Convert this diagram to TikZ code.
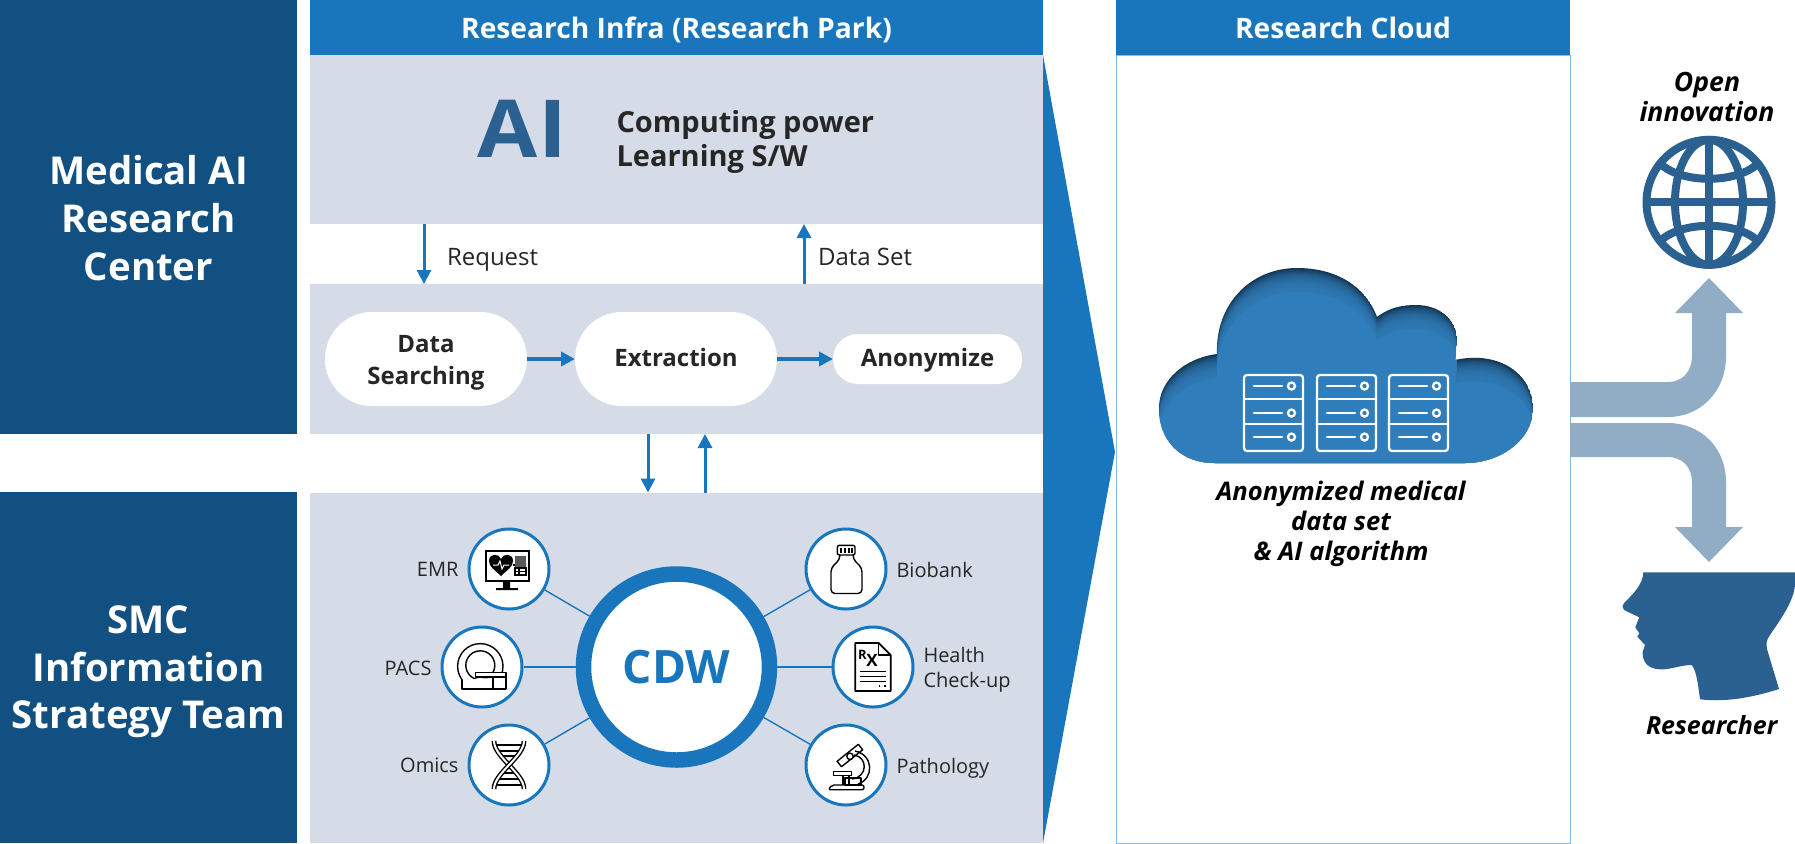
\documentclass[tikz,border=0pt]{standalone}
\usepackage{fontspec}
\usepackage{graphicx}
\setmainfont{Open Sans}
\usetikzlibrary{arrows.meta, positioning, calc}
\definecolor{mainblue}{HTML}{1976BC}
\definecolor{navy}{HTML}{125082}
\definecolor{steel}{HTML}{2A6190}
\definecolor{panelgray}{HTML}{D5DCE7}
\definecolor{branchblue}{HTML}{91ADC6}
\definecolor{cloudblue}{HTML}{3380BE}
\definecolor{cloudshade}{HTML}{123552}
\tikzset{
  box/.style={rectangle, inner sep=0pt, outer sep=0pt, align=center},
  team/.style={box, fill=navy, minimum width=148.5pt},
  teamtext/.style={inner sep=0pt, align=center, text=white, font=\bfseries\fontsize{19.2}{23.8}\selectfont},
  header/.style={box, fill=mainblue, text=white, minimum height=27.5pt, text height=12pt, text depth=.9pt, font=\bfseries\fontsize{14.1}{18}\selectfont},
  panel/.style={box, fill=panelgray, minimum width=366.5pt},
  pill/.style={box, fill=white, rounded corners=23.4pt, minimum width=101pt, minimum height=47pt, text=black!85, font=\bfseries\fontsize{12}{16}\selectfont},
  tag/.style={inner sep=0pt, outer sep=0pt, align=left, font=\fontsize{10}{12.5}\selectfont, text=black!85},
  linktag/.style={tag, font=\fontsize{12}{14}\selectfont},
  source/.style={circle, draw=mainblue, fill=white, line width=1.5pt, minimum size=40pt, inner sep=0pt},
  hub/.style={circle, draw=mainblue, fill=white, line width=7.75pt, minimum size=93pt, inner sep=0pt, text=mainblue, font=\bfseries\fontsize{23}{24}\selectfont},
  flow/.style={-{Triangle[width=7pt,length=7pt]}, line width=1.5pt, draw=mainblue},
  spoke/.style={draw=mainblue, line width=.7pt},
  branch/.style={fill=branchblue},
  caption/.style={inner sep=0pt, align=center, text=black, font=\bfseries\itshape\fontsize{12.8}{15}\selectfont},
  iconline/.style={draw=black, line width=.7pt, line join=round},
  serverline/.style={draw=white, line width=1.15pt},
  cloudoutline/.style={insert path={(1215,463) .. controls (1180,463) and (1159,440) .. (1159,408)
    .. controls (1159,380) and (1185,358) .. (1217,354) .. controls (1215,305) and (1250,268) .. (1297,268)
    .. controls (1335,268) and (1365,285) .. (1377,317) .. controls (1390,307) and (1403,305) .. (1416,305)
    .. controls (1440,305) and (1457,320) .. (1457,340) .. controls (1457,346) and (1456,353) .. (1455,360)
    .. controls (1500,350) and (1533,375) .. (1533,408) .. controls (1533,440) and (1500,463) .. (1465,463) -- cycle}},
}
\begin{document}
\begin{tikzpicture}[x=0.5pt, y=-0.5pt]
  \useasboundingbox (0,0) rectangle (1795,843);

  % left column
  \node[team, minimum height=217pt] (medical) at (148.5,217) {};
  \node[team, minimum height=175.5pt] (smc) at (148.5,667.5) {};
  \node[teamtext] (medicaltext) at (148.5,218) {Medical AI\\Research\\Center};
  \node[teamtext] (smctext) at (148.5,672) {SMC\\Information\\Strategy Team};

  % research infra
  \fill[mainblue] (1043,55) -- (1115,452) -- (1043,843) -- cycle;
  \node[header, minimum width=366.5pt] (infra) at (676.5,27.5) {Research Infra (Research Park)};
  \node[panel, minimum height=84.5pt] (aibox) at (676.5,139.5) {};
  \node[panel, minimum height=75pt] (pipebox) at (676.5,359) {};
  \node[panel, minimum height=175pt] (cdwbox) at (676.5,667.5) {};

  \node[inner sep=0pt, text=steel, font=\bfseries\fontsize{40}{40}\selectfont] (ai) at (522.5,129) {\scalebox{1.09}[1]{AI}};
  \node[tag, anchor=west, text=black!85, font=\bfseries\fontsize{14.5}{17.3}\selectfont] (power) at (616.5,142) {Computing power\\Learning S/W};

  \node[pill] (search) at (426,359) {\rule{0pt}{12pt}Data\\Searching};
  \node[pill, right=24pt of search, text height=9pt, text depth=1.6pt] (extract) {Extraction};
  \node[pill, right=28pt of extract, minimum width=94.5pt, minimum height=25pt, rounded corners=12.4pt, text height=9pt, text depth=1.6pt] (anon) {Anonymize};
  \draw[flow, line width=2pt] (search) -- (extract);
  \draw[flow, line width=2pt] (extract) -- (anon);

  \coordinate (reqx) at (424,0);
  \coordinate (setx) at (804,0);
  \coordinate (downx) at (648,0);
  \coordinate (upx) at (705,0);
  \draw[flow] (reqx |- aibox.south) -- node[linktag, pos=.6, right=11.5pt] (request) {Request} (reqx |- pipebox.north);
  \draw[flow] (setx |- pipebox.north) -- node[linktag, pos=.45, right=7pt] (dataset) {Data Set} (setx |- aibox.south);
  \draw[flow] (downx |- pipebox.south) -- (downx |- cdwbox.north);
  \draw[flow] (upx |- cdwbox.north) -- (upx |- pipebox.south);

  % cdw
  \node[hub] (cdw) at (676.5,667) {CDW};
  \node[source] (emr) at (509,569) {};
  \node[source] (pacs) at (482,667) {};
  \node[source] (omics) at (509,765) {};
  \node[source] (biobank) at (846,569) {};
  \node[source] (health) at (873,667) {};
  \node[source] (pathology) at (846,765) {};
  \foreach \src in {emr, pacs, omics, biobank, health, pathology}
    \draw[spoke] (cdw) -- (\src);

  \node[tag, left=4.5pt of emr] (emrtag) {EMR};
  \node[tag, left=4.5pt of pacs, yshift=-.5pt] (pacstag) {PACS};
  \node[tag, left=4.5pt of omics] (omicstag) {Omics};
  \node[tag, right=4.5pt of biobank, yshift=-.5pt] (biobanktag) {Biobank};
  \node[tag, right=4.5pt of health, yshift=-1.5pt] (healthtag) {Health\\Check-up};
  \node[tag, right=4.5pt of pathology, yshift=-1.5pt] (pathologytag) {Pathology};

  % icons
  \begin{scope}[shift={(emr)}]
    \fill[black] (-24.5,-19) rectangle (21,13);
    \fill[white] (-22.5,-17) rectangle (19,11);
    \fill[black] (-6,13) rectangle (1,19) (-13,19) rectangle (9,21);
    \fill[black] (-8,7) .. controls (-14,1) and (-20,-2) .. (-20,-8) .. controls (-20,-16) and (-10,-16) .. (-8,-10)
      .. controls (-6,-16) and (4,-16) .. (4,-8) .. controls (4,-2) and (-2,1) .. (-8,7) -- cycle;
    \draw[white, line width=.5pt] (-16,-4) -- (-11,-4) -- (-9,-8) -- (-7,0) -- (-5,-4) -- (0,-4);
    \draw[iconline] (4,-4) -- (6,-4);
    \fill[black!65] (6,-13) rectangle (17,-1);
    \draw[black, line width=.6pt, fill=white] (6,-1) rectangle (17,6) (6,2.5) -- (17,2.5) (10,-1) -- (10,6);
  \end{scope}
  \begin{scope}[shift={(pacs)}]
    \draw[iconline] (-1.7,-0.7) circle[radius=22.7];
    \draw[iconline] (-1.7,-1.7) circle[radius=14.5];
    \draw[iconline, fill=white] (-20,13) -- (-20,22) -- (24,22) -- (24,5.5) -- (-6.5,5.5) -- (-6.5,10) -- (24,10);
    \draw[iconline] (11,10) -- (11,22);
  \end{scope}
  \begin{scope}[shift={(omics)}]
    \foreach \ry/\rx in {-20/15, -14/11, -9/7, 8/7, 14/11, 20/15}
      \draw[iconline] (-\rx,\ry) -- (\rx,\ry);
    \foreach \flip in {1,-1} {
      \draw[black, line width=2.4pt] (-15*\flip,-24) .. controls (-15*\flip,-8) and (15*\flip,8) .. (15*\flip,24);
      \draw[white, line width=1pt] (-15*\flip,-24) .. controls (-15*\flip,-8) and (15*\flip,8) .. (15*\flip,24);
    }
  \end{scope}
  \begin{scope}[shift={(biobank)}]
    \draw[iconline, rounded corners=1pt] (-8.7,-23.7) rectangle (9,-14);
    \foreach \bx in {-5,-1,3,6}
      \draw[iconline] (\bx,-21) -- (\bx,-16);
    \draw[iconline, rounded corners=2pt] (-6,-14) -- (-6,-10) -- (-15,-1) -- (-15,24.5) -- (16,24.5) -- (16,-1) -- (7,-10) -- (7,-14);
  \end{scope}
  \begin{scope}[shift={(health)}]
    \draw[iconline, line width=.9pt] (-17.7,-24) -- (5.7,-24) -- (17.7,-12) -- (17.7,24) -- (-17.7,24) -- cycle;
    \draw[iconline] (5.7,-24) -- (5.7,-12) -- (17.7,-12);
    \node[inner sep=0pt, font=\bfseries\fontsize{6.5}{7}\selectfont] (rxr) at (-10.5,-12.5) {R};
    \node[inner sep=0pt, font=\bfseries\fontsize{8.5}{9}\selectfont] (rxx) at (-1,-6.5) {X};
    \foreach \ly in {4.5,9.5,14.5}
      \draw[iconline, line width=.8pt] (-13.3,\ly) -- (13.3,\ly);
    \draw[iconline, dotted] (6,19) -- (13,19);
  \end{scope}
  \begin{scope}[shift={(pathology)}]
    \draw[iconline, fill=white] (-4.5,1.7) -- (16.7,-15.3) -- (12.3,-20.7) -- (-8.9,-3.7) -- cycle;
    \draw[iconline] (8,-10) .. controls (22,-8) and (22,12) .. (6,14);
    \draw[iconline] (9,-14) .. controls (28,-10) and (28,14) .. (12,19);
    \draw[iconline, fill=white] (4,-8.7) circle[radius=3.2];
    \draw[iconline] (-12.7,6.7) rectangle (5.7,10.7);
    \draw[iconline] (-3,10.7) -- (-3,20) (3,10.7) -- (3,20);
    \draw[iconline] (-1,13) rectangle (15,20);
    \draw[iconline, rounded corners=1pt] (-17.7,24.7) -- (-14,20) -- (18,20) -- (18,24.7) -- cycle;
  \end{scope}

  % research cloud
  \node[box, fill=white, draw=mainblue!50, line width=.5pt, minimum width=227pt, minimum height=394pt] (cloudbox) at (1343,449) {};
  \node[header, minimum width=227pt] (cloudhead) at (1343,27.5) {Research Cloud};
  \begin{scope}
    \path[clip, cloudoutline];
    \fill[cloudshade, cloudoutline];
    \foreach \d in {1,...,20}
      \fill[cloudblue, opacity=.14, yshift=-\d*0.6pt, cloudoutline];
    \fill[cloudblue, opacity=.7, yshift=-12pt, cloudoutline];
  \end{scope}
  \foreach \sx in {1244,1317,1389} {
    \begin{scope}[shift={(\sx,375)}]
      \draw[serverline, rounded corners=1.5pt] (0,0) rectangle (59,76);
      \draw[serverline] (0,24) -- (59,24) (0,49) -- (59,49);
      \foreach \sy in {11,38,62} {
        \draw[serverline, line cap=round] (10,\sy) -- (38,\sy);
        \draw[serverline] (47.5,\sy) circle[radius=3.5];
      }
    \end{scope}
  }
  \node[caption] (anondata) at (1341,524) {Anonymized medical\\data set\\\& AI algorithm};

  % branches
  \fill[branch] (1570,382) -- (1668,382) .. controls (1682,382) and (1692,372) .. (1692,356) -- (1692,313)
    -- (1675,313) -- (1709,278) -- (1743,313) -- (1726,313) -- (1726,356) .. controls (1726,392) and (1700,417) .. (1668,417) -- (1570,417) -- cycle;
  \fill[branch] (1570,457) -- (1668,457) .. controls (1682,457) and (1692,467) .. (1692,482) -- (1692,527)
    -- (1675,527) -- (1709,562) -- (1743,527) -- (1726,527) -- (1726,482) .. controls (1726,447) and (1700,423) .. (1668,423) -- (1570,423) -- cycle;

  % globe
  \node[caption, font=\bfseries\itshape\fontsize{13.3}{15}\selectfont] (openinno) at (1707,97) {Open\\innovation};
  \begin{scope}[shift={(1709,202.3)}, draw=steel, line width=4pt]
    \draw (0,0) circle[radius=62.5];
    \draw (-62,0) -- (62,0) (0,-62) -- (0,62);
    \draw (0,0) ellipse[x radius=34, y radius=62.5];
    \draw (-47,-37) .. controls (-25,-19) and (25,-19) .. (47,-37);
    \draw (-47,37) .. controls (-25,19) and (25,19) .. (47,37);
  \end{scope}

  % head
  \fill[steel] (1643.3,572.3) -- (1795,572.3) -- (1795,583) .. controls (1795,600) and (1780,620) .. (1770,635)
    .. controls (1766,640) and (1766,645) .. (1767.3,650) -- (1779,689) .. controls (1760,695) and (1730,703) .. (1700,699.3)
    .. controls (1698,685) and (1697,672) .. (1691.7,665) .. controls (1680,665) and (1670,670) .. (1660,669.3)
    .. controls (1648,669) and (1642,662) .. (1642.7,651.7) -- (1645,645) -- (1637.3,636.7) -- (1639.3,633.3)
    -- (1635.3,627.3) -- (1639.3,617.3) -- (1624,610) .. controls (1622,608) and (1622,605) .. (1624,603)
    .. controls (1632,595) and (1643,585) .. (1643.3,572.3) -- cycle;
  \node[caption, font=\bfseries\itshape\fontsize{12.5}{15}\selectfont] (researcher) at (1711.7,725) {Researcher};
\end{tikzpicture}
\end{document}
